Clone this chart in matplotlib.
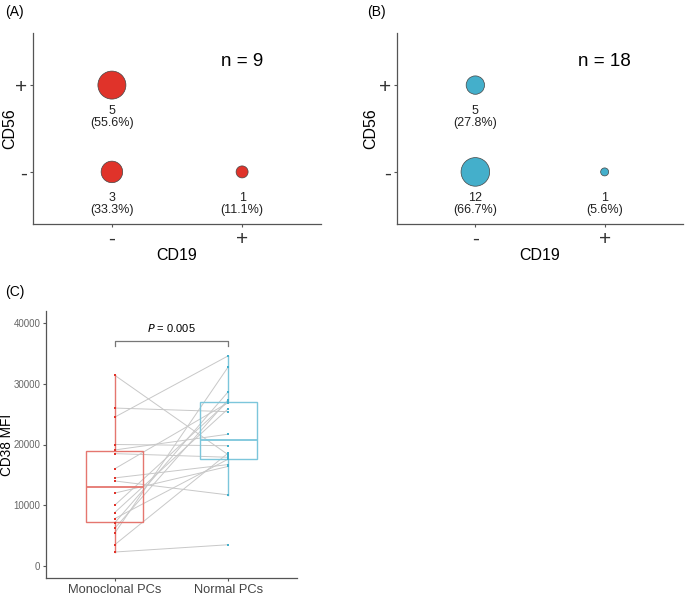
import matplotlib.pyplot as plt
import numpy as np

plt.rcParams['font.family'] = ['Liberation Sans', 'DejaVu Sans']

# Panel A / B: counts in each CD19 x CD56 cell
cd19_cells = [1, 1, 2]          # 1 = "-", 2 = "+"
cd56_cells = [2, 1, 1]
counts_a = [5, 3, 1]
pct_a = ['55.6%', '33.3%', '11.1%']
counts_b = [5, 12, 1]
pct_b = ['27.8%', '66.7%', '5.6%']
n_a = 9
n_b = 18

# Panel C: paired CD38 MFI values
mono = [31400, 26000, 24500, 20000, 19100, 18500, 16000, 14500, 14000,
        12000, 10000, 8800, 7800, 7100, 6200, 5400, 3500, 2300]
normal = [18300, 25400, 34600, 19800, 21700, 17900, 26900, 16700, 11700,
          16400, 27100, 25900, 17600, 28700, 27400, 32800, 18600, 3500]
groups = ['Monoclonal PCs', 'Normal PCs']
p_text = '0.005'

RED = '#E0332A'
BLUE = '#44AFCB'
RED_BOX = '#E5766F'
BLUE_BOX = '#7CC6DB'
AXC = '#555555'

fig = plt.figure(figsize=(6.85, 5.97), dpi=100)
W, H = 685, 597


def add_ax(x0, y0, x1, y1):
    return fig.add_axes([x0 / W, 1 - y1 / H, (x1 - x0) / W, (y1 - y0) / H])


def style(ax):
    for s in ['top', 'right']:
        ax.spines[s].set_visible(False)
    for s in ['left', 'bottom']:
        ax.spines[s].set_color(AXC)
        ax.spines[s].set_linewidth(0.9)
    ax.tick_params(color=AXC, length=2.5, width=0.8, pad=1.5)


def bubble_panel(ax, counts, pcts, color, n, rmin, rmax, ylab_x):
    style(ax)
    c = np.array(counts, dtype=float)
    # area linear in count between rmin^2 and rmax^2 (pixels)
    area_px = rmin ** 2 + (c - c.min()) / (c.max() - c.min()) * (rmax ** 2 - rmin ** 2)
    diam_pt = 2 * np.sqrt(area_px) * 0.72
    ax.scatter(cd19_cells, cd56_cells, s=diam_pt ** 2, color=color,
               edgecolor='#444444', linewidth=0.5, zorder=3)
    for x, y, k, p in zip(cd19_cells, cd56_cells, counts, pcts):
        ax.text(x, y - 0.37, f'{k}\n({p})', ha='center', va='center',
                fontsize=9, color='#222222', linespacing=1.0)
    ax.text(2, 2.27, f'n = {n}', ha='center', va='center', fontsize=13.5)
    ax.set_xlim(0.394, 2.606)
    ax.set_ylim(0.4, 2.6)
    ax.set_xticks([1, 2])
    ax.set_xticklabels(['-', '+'], fontsize=15, color='#333333')
    ax.set_yticks([1, 2])
    ax.set_yticklabels(['-', '+'], fontsize=15, color='#333333')
    ax.set_xlabel('CD19', fontsize=11.5)
    ax.xaxis.set_label_coords(0.5, -0.165)
    ax.xaxis.label.set_va('center')
    ax.set_ylabel('CD56', fontsize=11.5)
    ax.yaxis.set_label_coords(ylab_x, 0.5)
    ax.yaxis.label.set_va('center')


ax_a = add_ax(33, 33, 321, 224)
bubble_panel(ax_a, counts_a, pct_a, RED, n_a, 6, 14, -0.08)
ax_b = add_ax(397, 33, 683, 224)
bubble_panel(ax_b, counts_b, pct_b, BLUE, n_b, 4, 14.3, -0.091)

# Panel C
ax_c = add_ax(46, 311, 297, 578)
style(ax_c)
for a, b in zip(mono, normal):
    ax_c.plot([1, 2], [a, b], color='#c8c8c8', linewidth=0.7, zorder=1)
for i, (vals, col, pc) in enumerate([(mono, RED_BOX, RED), (normal, BLUE_BOX, BLUE)]):
    ax_c.boxplot([vals], positions=[i + 1], widths=0.5, patch_artist=True,
                 showcaps=False, showfliers=False,
                 boxprops=dict(facecolor='none', edgecolor=col, linewidth=1.0),
                 medianprops=dict(color=col, linewidth=1.3),
                 whiskerprops=dict(color=col, linewidth=1.0), zorder=2)
    ax_c.scatter([i + 1] * len(vals), vals, s=3, marker='s', color=pc,
                 linewidth=0, zorder=3)
ax_c.set_xlim(0.395, 2.605)
ax_c.set_ylim(-1975, 41975)
ax_c.set_xticks([1, 2])
ax_c.set_xticklabels(groups, fontsize=9.3, color='#444444')
ax_c.set_yticks([0, 10000, 20000, 30000, 40000])
ax_c.set_yticklabels(['0', '10000', '20000', '30000', '40000'], fontsize=7, color='#666666')
ax_c.set_ylabel('CD38 MFI', fontsize=9.8)
ax_c.yaxis.set_label_coords(-0.155, 0.5)
ax_c.yaxis.label.set_va('center')
ax_c.plot([1, 1, 2, 2], [36200, 37000, 37000, 36200], color='#777777', linewidth=0.9)
ax_c.text(1.5, 38200, r'$\it{P}$ = ' + p_text, ha='center', va='bottom', fontsize=8)

fig.text(5 / W, 1 - 12 / H, '(A)', fontsize=10, va='center')
fig.text(367 / W, 1 - 12 / H, '(B)', fontsize=10, va='center')
fig.text(5 / W, 1 - 292 / H, '(C)', fontsize=10, va='center')

fig.savefig('out.png', dpi=100)
